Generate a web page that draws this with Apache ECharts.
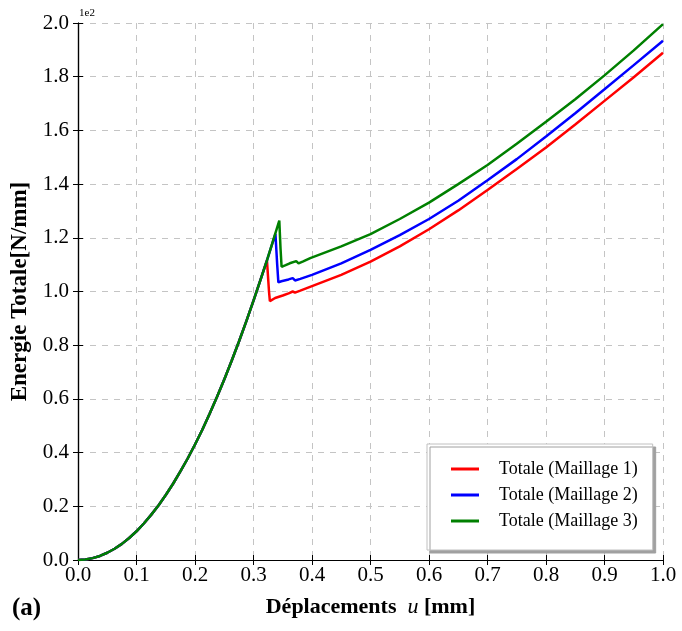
<!DOCTYPE html>
<html>
<head>
<meta charset="utf-8">
<script src="https://cdn.jsdelivr.net/npm/echarts@6/dist/echarts.min.js"></script>
<style>
html,body{margin:0;padding:0;background:#fff;}
#c{width:682px;height:631px;}
</style>
</head>
<body>
<div id="c"></div>
<script>
// Shared initial rise (units of 1e2 N/mm)
var riseX = [0, 0.0125, 0.025, 0.0375, 0.05, 0.0625, 0.075, 0.0875, 0.1, 0.1125, 0.125, 0.1375, 0.15, 0.1625, 0.175, 0.1875, 0.2, 0.2125, 0.225, 0.2375, 0.25, 0.2625, 0.275, 0.2875, 0.3, 0.3125];
var riseY = [0, 0.002, 0.007, 0.015, 0.027, 0.042, 0.06, 0.082, 0.107, 0.136, 0.168, 0.203, 0.242, 0.284, 0.33, 0.378, 0.43, 0.485, 0.545, 0.607, 0.672, 0.741, 0.813, 0.888, 0.966, 1.047];

var redTailX = [0.323, 0.3265, 0.328, 0.337, 0.35, 0.36, 0.367, 0.369, 0.371, 0.38, 0.4, 0.45, 0.5, 0.55, 0.6, 0.65, 0.7, 0.75, 0.8, 0.85, 0.9, 0.95, 1.0];
var redTailY = [1.116, 1.0, 0.964, 0.976, 0.985, 0.993, 1.0, 1.004, 0.996, 1.003, 1.02, 1.062, 1.111, 1.168, 1.232, 1.302, 1.378, 1.456, 1.536, 1.622, 1.71, 1.798, 1.889];

var blueTailX = [0.323, 0.3375, 0.3405, 0.3425, 0.3476, 0.36, 0.367, 0.3695, 0.371, 0.38, 0.4, 0.45, 0.5, 0.55, 0.6, 0.65, 0.7, 0.75, 0.8, 0.85, 0.9, 0.95, 1.0];
var blueTailY = [1.116, 1.215, 1.1, 1.034, 1.038, 1.045, 1.05, 1.052, 1.041, 1.047, 1.062, 1.105, 1.155, 1.21, 1.27, 1.338, 1.414, 1.493, 1.577, 1.664, 1.753, 1.843, 1.934];

var greenTailX = [0.323, 0.3441, 0.3462, 0.348, 0.355, 0.362, 0.373, 0.375, 0.377, 0.385, 0.397, 0.45, 0.5, 0.55, 0.6, 0.65, 0.7, 0.75, 0.8, 0.85, 0.9, 0.95, 1.0];
var greenTailY = [1.116, 1.264, 1.16, 1.092, 1.098, 1.105, 1.113, 1.116, 1.105, 1.112, 1.124, 1.168, 1.214, 1.27, 1.331, 1.4, 1.471, 1.55, 1.632, 1.716, 1.805, 1.898, 1.996];

var seriesNames = ['Totale (Maillage 1)', 'Totale (Maillage 2)', 'Totale (Maillage 3)'];
var seriesColors = ['#ff0000', '#0000ff', '#008000'];

function pairs(xs, ys) {
  var out = [];
  for (var i = 0; i < xs.length; i++) out.push([xs[i], ys[i]]);
  return out;
}
var redData = pairs(riseX.concat(redTailX), riseY.concat(redTailY));
var blueData = pairs(riseX.concat(blueTailX), riseY.concat(blueTailY));
var greenData = pairs(riseX.concat(greenTailX), riseY.concat(greenTailY));
var allData = [redData, blueData, greenData];

var serif = "'Liberation Serif', 'DejaVu Serif', serif";
var chart = echarts.init(document.getElementById('c'), null, {renderer: 'canvas'});

var splitStyle = {show: true, lineStyle: {color: '#c4c4c4', type: [6, 6], width: 1}};
var axisLineStyle = {show: true, lineStyle: {color: '#000', width: 1.2}};
var tickStyle = {show: true, inside: true, length: 5, lineStyle: {color: '#000', width: 1}};

chart.setOption({
  animation: false,
  backgroundColor: '#fff',
  grid: {left: 78, right: 19, top: 23, bottom: 71, containLabel: false, outerBoundsMode: 'none'},
  xAxis: [{
    type: 'value', min: 0, max: 1, interval: 0.1, position: 'bottom',
    axisLine: axisLineStyle, axisTick: tickStyle, splitLine: splitStyle,
    axisLabel: {fontFamily: serif, fontSize: 21, color: '#000', margin: 5,
      formatter: function (v) { return v.toFixed(1); }},
    name: '{b|Déplacements  }{i|u}{b| [mm]}',
    nameLocation: 'middle', nameGap: 36,
    nameTextStyle: {rich: {
      b: {fontFamily: serif, fontWeight: 'bold', fontSize: 22, color: '#000'},
      i: {fontFamily: serif, fontStyle: 'italic', fontSize: 22, color: '#000'}
    }}
  }, {
    type: 'value', min: 0, max: 1, interval: 0.1, position: 'top',
    axisLine: axisLineStyle, axisTick: tickStyle, splitLine: {show: false},
    axisLabel: {show: false}
  }],
  yAxis: [{
    type: 'value', min: 0, max: 2, interval: 0.2, position: 'left',
    axisLine: axisLineStyle, axisTick: tickStyle, splitLine: splitStyle,
    axisLabel: {fontFamily: serif, fontSize: 21, color: '#000', margin: 9,
      formatter: function (v) { return v.toFixed(1); }},
    name: 'Energie Totale[N/mm]', nameLocation: 'middle', nameGap: 45,
    nameTextStyle: {fontFamily: serif, fontWeight: 'bold', fontSize: 23, color: '#000'}
  }, {
    type: 'value', min: 0, max: 2, interval: 0.2, position: 'right',
    axisLine: axisLineStyle, axisTick: tickStyle, splitLine: {show: false},
    axisLabel: {show: false}
  }],
  legend: {
    data: seriesNames,
    orient: 'vertical',
    left: 427, top: 444,
    padding: [16, 15, 20, 24],
    itemGap: 8,
    itemWidth: 28, itemHeight: 3,
    icon: 'rect',
    backgroundColor: '#fff',
    borderColor: '#c0c0c0', borderWidth: 1,
    shadowColor: '#a0a0a0', shadowOffsetX: 3, shadowOffsetY: 3, shadowBlur: 0,
    textStyle: {fontFamily: serif, fontSize: 18, color: '#000', padding: [0, 0, 0, 15]}
  },
  graphic: [
    {type: 'text', left: 79, top: 8, style: {text: '1e2', font: "11px 'Liberation Serif'", fill: '#000'}},
    {type: 'text', left: 12, top: 596, style: {text: '(a)', font: "bold 25px 'Liberation Serif'", fill: '#000'}}
  ],
  series: seriesNames.map(function (n, i) {
    return {
      name: n, type: 'line', xAxisIndex: 0, yAxisIndex: 0,
      data: allData[i], showSymbol: false, symbol: 'none',
      lineStyle: {color: seriesColors[i], width: 2.5},
      itemStyle: {color: seriesColors[i]},
      z: 2 + i
    };
  })
});
</script>
</body>
</html>
